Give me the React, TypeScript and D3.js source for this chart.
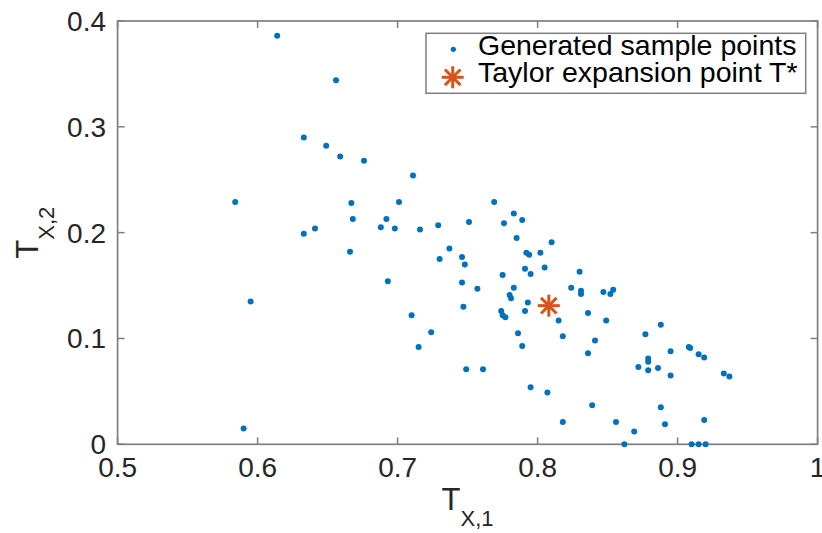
import React from "react";
import * as d3 from "d3";

const sampleX = [
  0.614, 0.656, 0.633, 0.649, 0.659, 0.676, 0.711, 0.584, 0.667, 0.701,
  0.668, 0.692, 0.641, 0.633, 0.688, 0.698, 0.716, 0.729, 0.737, 0.730,
  0.666, 0.693, 0.595, 0.710, 0.724, 0.715, 0.590, 0.769, 0.751, 0.776,
  0.783, 0.789, 0.785, 0.810, 0.746, 0.748, 0.792, 0.794, 0.802, 0.775,
  0.791, 0.795, 0.805, 0.830, 0.746, 0.757, 0.783, 0.824, 0.831, 0.831,
  0.847, 0.852, 0.854, 0.780, 0.781, 0.747, 0.793, 0.774, 0.775, 0.777,
  0.791, 0.815, 0.836, 0.849, 0.786, 0.789, 0.818, 0.841, 0.836, 0.877,
  0.888, 0.895, 0.908, 0.909, 0.915, 0.919, 0.879, 0.879, 0.872, 0.879,
  0.886, 0.895, 0.933, 0.937, 0.749, 0.761, 0.795, 0.807, 0.839, 0.888,
  0.818, 0.856, 0.891, 0.919, 0.869, 0.862, 0.910, 0.915, 0.920,
];
const sampleY = [
  0.386, 0.344, 0.290, 0.282, 0.272, 0.268, 0.254, 0.229, 0.228, 0.229,
  0.213, 0.213, 0.204, 0.199, 0.205, 0.204, 0.203, 0.207, 0.185, 0.175,
  0.182, 0.154, 0.135, 0.122, 0.106, 0.092, 0.015, 0.229, 0.210, 0.209,
  0.218, 0.212, 0.195, 0.191, 0.177, 0.170, 0.181, 0.179, 0.181, 0.160,
  0.166, 0.161, 0.167, 0.163, 0.153, 0.147, 0.148, 0.148, 0.145, 0.142,
  0.144, 0.142, 0.146, 0.141, 0.138, 0.130, 0.134, 0.126, 0.122, 0.120,
  0.126, 0.117, 0.124, 0.117, 0.105, 0.093, 0.102, 0.098, 0.086, 0.104,
  0.113, 0.088, 0.092, 0.091, 0.085, 0.082, 0.081, 0.078, 0.073, 0.070,
  0.072, 0.065, 0.067, 0.064, 0.071, 0.071, 0.054, 0.049, 0.037, 0.035,
  0.021, 0.021, 0.019, 0.023, 0.012, 0.000, 0.000, 0.000, 0.000,
];
const taylorX = [0.808];
const taylorY = [0.131];
const xTicks = [0.5, 0.6, 0.7, 0.8, 0.9, 1];
const yTicks = [0, 0.1, 0.2, 0.3, 0.4];
const legendLabels = ["Generated sample points", "Taylor expansion point T*"];

const W = 822;
const H = 533;
const left = 117.6;
const right = 817.6;
const top = 21;
const bottom = 444.3;

const blue = "#0072BD";
const orange = "#D95319";
const axisColor = "#7f7f7f";
const textColor = "#262626";
const font = "'Liberation Sans', Arial, Helvetica, sans-serif";

function Asterisk({ cx, cy, r }: { cx: number; cy: number; r: number }) {
  const angles = [0, 45, 90, 135];
  return (
    <g stroke={orange} strokeWidth={3} strokeLinecap="butt">
      {angles.map((a) => {
        const rad = (a * Math.PI) / 180;
        const dx = Math.cos(rad) * r;
        const dy = Math.sin(rad) * r;
        return <line key={a} x1={cx - dx} y1={cy - dy} x2={cx + dx} y2={cy + dy} />;
      })}
    </g>
  );
}

export default function App() {
  const x = d3.scaleLinear().domain([0.5, 1]).range([left, right]);
  const y = d3.scaleLinear().domain([0, 0.4]).range([bottom, top]);
  const fmt = (v: number) => (v === 0 || v === 1 ? String(v) : d3.format(".1f")(v));
  const tickLen = 7;

  return (
    <svg
      width={W}
      height={H}
      style={{ position: "absolute", left: 0, top: 0, background: "#fff" }}
      fontFamily={font}
    >
      <rect x={0} y={0} width={W} height={H} fill="#fff" />
      {/* axes box */}
      <rect
        x={left}
        y={top}
        width={right - left}
        height={bottom - top}
        fill="none"
        stroke={axisColor}
        strokeWidth={1.7}
      />
      {/* x ticks */}
      {xTicks.map((t) => (
        <g key={"x" + t}>
          <line x1={x(t)} x2={x(t)} y1={bottom} y2={bottom - tickLen} stroke={axisColor} strokeWidth={1.5} />
          <line x1={x(t)} x2={x(t)} y1={top} y2={top + tickLen} stroke={axisColor} strokeWidth={1.5} />
          <text x={x(t)} y={476.5} fontSize={28} textAnchor="middle" fill={textColor}>
            {fmt(t)}
          </text>
        </g>
      ))}
      {/* y ticks */}
      {yTicks.map((t) => (
        <g key={"y" + t}>
          <line x1={left} x2={left + tickLen} y1={y(t)} y2={y(t)} stroke={axisColor} strokeWidth={1.5} />
          <line x1={right} x2={right - tickLen} y1={y(t)} y2={y(t)} stroke={axisColor} strokeWidth={1.5} />
          <text x={106} y={y(t) + 10} fontSize={28} textAnchor="end" fill={textColor}>
            {fmt(t)}
          </text>
        </g>
      ))}
      {/* sample points */}
      {sampleX.map((vx, i) => (
        <circle key={i} cx={x(vx)} cy={y(sampleY[i])} r={3} fill={blue} />
      ))}
      {/* Taylor point */}
      {taylorX.map((vx, i) => (
        <Asterisk key={"t" + i} cx={x(vx)} cy={y(taylorY[i])} r={11} />
      ))}
      {/* axis labels */}
      <text x={(left + right) / 2} y={510} fontSize={31} textAnchor="middle" fill={textColor}>
        T
        <tspan fontSize={22} dy={16}>X,1</tspan>
      </text>
      <text
        transform={`translate(38, ${(top + bottom) / 2}) rotate(-90)`}
        fontSize={31}
        textAnchor="middle"
        fill={textColor}
      >
        T
        <tspan fontSize={22} dy={16}>X,2</tspan>
      </text>
      {/* legend */}
      <rect x={426} y={33.3} width={379.7} height={60} fill="#fff" stroke={axisColor} strokeWidth={1.5} />
      <circle cx={453.3} cy={49.3} r={2.6} fill={blue} />
      <Asterisk cx={452.7} cy={77.3} r={11} />
      <text x={478} y={55} fontSize={28.5} fill="#000">
        {legendLabels[0]}
      </text>
      <text x={478} y={82} fontSize={28.5} fill="#000">
        {legendLabels[1]}
      </text>
    </svg>
  );
}
